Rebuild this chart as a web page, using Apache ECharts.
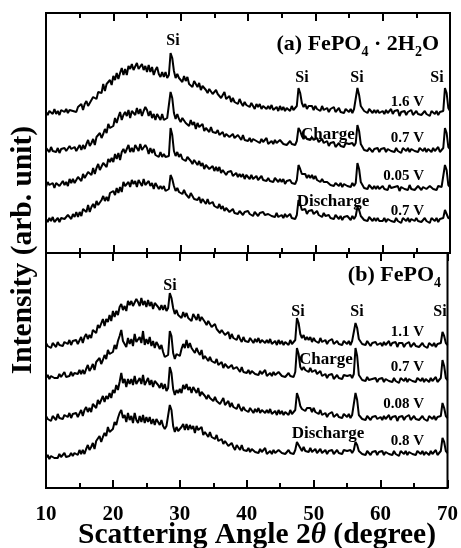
<!DOCTYPE html>
<html>
<head>
<meta charset="utf-8">
<script src="https://cdn.jsdelivr.net/npm/echarts@6/dist/echarts.min.js"></script>
<style>
html,body{margin:0;padding:0;background:#fff;}
#chart{width:461px;height:548px;}
</style>
</head>
<body>
<div id="chart"></div>
<script>
// Scan: 10-70 degrees 2θ, 0.25 degree step
const scanStart = 10;
const scanStep = 0.25;
const angleMin = 10, angleMax = 70, angleTickStep = 10;

// (a) FePO4·2H2O traces, offset intensities
const fp2h_1_6V = [
141,138,142,140,139,144,139,142,138,143,141,141,144,140,143,145,142,143,141,146,
144,149,143,149,152,147,150,148,156,157,154,161,160,160,169,162,169,167,173,168,
177,173,180,174,180,185,178,184,178,187,184,189,183,181,190,184,182,189,183,187,
181,188,181,186,178,183,186,179,176,181,176,181,175,178,200,195,182,175,179,175,
177,171,177,172,176,169,171,166,172,169,166,170,163,167,169,163,160,164,162,159,
159,163,159,161,155,158,161,154,155,157,151,155,151,153,149,154,150,147,151,148,
149,146,150,147,144,149,146,149,144,147,146,144,147,144,148,143,145,146,142,147,
143,146,142,145,144,142,147,143,145,147,165,160,150,146,149,144,147,145,147,143,
147,144,145,142,147,143,144,145,141,144,142,146,141,143,145,141,143,140,144,142,
141,144,140,144,146,165,158,147,145,142,144,140,144,142,140,143,140,143,140,142,
142,139,143,140,141,144,139,142,140,143,137,141,140,142,138,141,139,143,138,140,
142,139,141,138,140,142,139,141,137,142,140,139,142,138,141,140,142,165,160,145,
142];
const fp2h_charge_0_7V = [
105,103,101,106,102,104,101,105,100,104,103,105,102,101,107,104,103,106,102,105,
108,103,108,104,109,113,107,110,114,108,116,114,120,115,119,124,120,129,125,124,
127,135,130,136,141,133,138,141,137,143,135,142,141,138,145,139,144,137,142,146,
143,137,142,135,139,133,139,137,133,139,133,131,135,134,161,155,140,134,139,134,
131,135,137,130,132,127,133,128,131,124,130,126,124,129,122,125,126,121,126,121,
123,120,123,118,119,121,116,119,121,116,117,119,115,113,118,116,113,118,113,114,
112,115,111,114,116,112,112,110,114,111,113,115,109,111,112,109,113,110,111,113,
112,109,111,108,110,112,109,111,108,112,125,122,117,114,117,114,116,113,116,113,
113,115,111,113,114,110,110,112,107,110,108,111,106,108,110,107,109,106,110,108,
109,107,110,107,110,128,122,109,106,103,105,102,105,103,101,104,102,105,101,104,
102,105,101,104,106,102,103,101,105,102,104,100,105,103,102,105,101,104,106,102,
104,101,105,103,102,105,101,104,103,101,105,102,104,106,101,103,105,125,120,106,
104];
const fp2h_0_05V = [
66,71,68,67,70,65,70,72,67,69,72,68,71,67,74,70,74,70,72,76,
76,72,79,75,73,81,80,78,85,79,85,89,83,82,90,88,86,94,91,95,
91,99,94,100,93,101,104,100,99,108,101,105,101,108,107,102,109,103,105,108,
105,99,105,100,104,98,100,96,101,96,99,96,97,97,125,118,102,97,101,96,
99,94,96,92,96,97,92,89,93,91,88,92,87,90,84,88,89,84,85,87,
82,86,82,86,80,83,83,78,81,79,82,77,78,80,76,79,76,79,74,78,
77,74,78,74,75,77,73,75,77,73,74,72,75,72,74,71,75,73,71,74,
71,74,69,72,71,73,70,72,69,73,88,84,79,77,79,75,78,75,78,74,
77,73,75,71,74,71,69,71,71,68,70,67,70,68,67,70,66,69,68,67,
69,66,70,67,70,90,84,71,68,65,67,64,68,66,64,67,64,67,64,66,
67,64,66,63,68,65,63,66,64,67,62,66,67,64,65,63,68,64,66,63,
64,67,65,63,66,68,64,63,67,65,64,66,63,67,65,66,66,88,83,68,
66];
const fp2h_discharge_0_7V = [
34,31,35,32,36,31,33,35,31,35,36,34,33,38,36,34,39,36,41,36,
41,37,44,42,41,48,41,46,49,45,52,48,47,53,57,52,56,52,60,58,
62,58,65,60,66,61,71,67,65,71,66,73,69,72,66,73,70,67,74,68,
67,72,67,70,64,70,67,64,67,64,67,62,64,64,78,74,67,62,65,61,
63,59,63,59,60,55,60,60,54,56,53,56,50,54,53,49,54,49,49,51,
47,49,45,49,44,47,42,45,46,41,42,44,40,42,39,42,40,38,41,42,
42,39,41,37,41,39,37,40,38,41,38,36,39,40,37,38,36,40,36,38,
38,35,39,36,37,39,35,37,34,38,53,49,43,41,44,39,42,40,43,39,
39,42,38,40,36,40,37,35,38,35,37,34,38,36,34,37,33,36,35,37,
36,33,37,34,37,46,43,37,36,33,35,32,36,34,32,35,32,35,32,34,
32,35,31,34,36,32,33,31,35,32,34,30,35,33,32,35,31,34,36,32,
35,32,34,31,33,35,32,34,30,35,33,32,35,31,34,33,35,43,41,35,
34];

// (b) FePO4 traces, offset intensities
const fp_1_1V = [
145,142,144,140,145,143,141,146,143,145,142,146,145,144,148,143,147,145,148,144,
145,151,145,151,154,149,153,150,158,158,155,163,160,160,169,162,169,166,173,167,
177,171,177,173,181,184,178,182,177,187,183,187,182,180,189,186,182,190,183,187,
181,188,182,186,179,185,187,181,178,183,178,183,177,180,195,190,180,174,178,173,
175,170,176,171,175,170,172,167,174,172,168,174,167,171,171,166,163,167,164,161,
160,164,159,161,155,158,160,153,154,156,149,154,150,152,148,153,149,146,151,147,
149,146,150,148,145,149,146,150,145,148,147,145,148,145,149,144,146,147,143,148,
144,147,143,146,145,143,148,144,146,148,170,165,154,150,153,148,151,148,151,146,
150,147,148,145,150,146,146,148,144,147,145,149,144,145,147,144,146,143,147,145,
144,147,143,147,149,165,160,149,147,144,146,143,147,145,142,145,143,146,143,145,
145,142,146,143,144,147,142,145,143,146,141,145,143,145,141,144,142,146,141,143,
145,142,144,141,143,145,142,144,140,145,143,142,145,141,144,143,145,156,152,145,
143];
const fp_charge_0_7V = [
110,113,109,112,114,110,111,110,114,111,113,116,111,113,112,116,112,115,117,114,
118,114,118,114,119,123,117,120,124,118,126,124,130,124,128,133,129,138,134,133,
136,143,139,147,152,158,147,149,141,150,144,149,142,154,146,144,151,145,157,143,
149,144,151,142,147,140,146,143,139,143,136,131,133,133,157,152,135,129,134,132,
132,139,144,140,148,140,145,140,142,135,140,136,133,138,129,132,132,127,131,127,
129,125,129,123,124,126,120,124,125,120,121,123,119,117,121,120,116,121,116,117,
115,118,114,117,118,114,115,113,117,114,116,118,112,114,115,112,116,113,114,116,
115,112,114,111,113,115,112,114,111,116,140,134,121,118,121,118,119,116,120,116,
116,118,114,116,117,112,113,114,110,113,111,114,109,111,113,110,112,109,113,111,
112,110,113,110,114,140,132,113,111,108,110,107,111,108,106,109,107,110,106,109,
107,110,106,109,111,107,108,106,110,107,109,105,110,108,107,110,106,109,111,107,
109,106,110,108,107,110,106,109,108,106,110,107,109,111,106,108,110,128,122,110,
108];
const fp_0_08V = [
72,69,71,67,72,70,68,74,70,72,69,73,72,71,75,70,74,72,75,71,
72,78,72,78,81,76,80,76,84,84,80,88,84,84,92,86,92,89,95,90,
98,95,103,98,106,115,105,109,101,109,104,109,103,112,104,102,110,104,113,103,
103,110,103,108,101,107,109,103,100,105,99,104,97,100,121,115,99,93,98,95,
99,95,103,99,104,98,101,95,101,98,95,100,92,96,97,92,89,93,90,88,
87,91,87,89,84,87,90,83,85,87,81,85,81,83,79,84,80,77,81,78,
79,76,80,78,75,79,76,80,75,78,77,75,78,75,79,74,76,77,73,78,
74,77,73,76,75,73,78,74,76,78,95,90,82,79,81,77,80,78,80,76,
80,76,78,74,78,73,74,75,71,74,72,76,71,72,74,71,73,70,74,72,
71,74,70,73,75,95,88,73,72,69,71,68,72,70,68,71,69,72,69,71,
71,68,72,69,70,73,68,71,69,72,67,71,70,72,68,71,69,73,68,70,
72,69,71,68,70,72,69,71,67,72,70,69,72,68,71,70,72,85,80,72,
70];
const fp_discharge_0_8V = [
30,33,29,32,34,30,31,30,34,31,33,35,31,33,32,35,32,35,37,33,
38,34,38,34,39,43,38,41,45,39,47,45,52,46,51,55,52,61,56,56,
59,66,63,70,75,78,70,73,66,75,68,72,65,75,68,65,72,66,73,65,
71,66,71,64,69,63,69,67,63,68,62,59,62,62,83,78,62,56,61,57,
56,61,64,58,64,58,63,59,62,55,62,58,56,61,53,56,56,51,56,51,
53,49,53,47,48,49,44,47,48,42,44,45,41,38,43,41,38,43,38,39,
37,40,36,39,41,36,37,35,39,36,38,40,34,36,37,34,38,35,36,38,
38,35,37,34,36,38,35,37,34,38,46,44,40,37,41,37,39,36,40,36,
36,39,35,37,39,35,36,38,34,37,35,38,34,36,38,35,37,34,38,36,
37,35,38,35,38,46,43,37,37,34,36,33,37,35,33,36,34,37,33,36,
34,37,33,36,38,34,35,33,37,34,36,32,37,35,34,37,33,36,38,34,
36,33,37,35,34,37,33,36,35,33,37,34,36,38,33,35,37,50,46,37,
35];

const panelA = [fp2h_1_6V, fp2h_charge_0_7V, fp2h_0_05V, fp2h_discharge_0_7V];
const panelB = [fp_1_1V, fp_charge_0_7V, fp_0_08V, fp_discharge_0_8V];

const serif = "'Liberation Serif','Times New Roman','DejaVu Serif',serif";

function toPairs(values) {
  return values.map((v, i) => [scanStart + i * scanStep, v]);
}

function xAxis(gridIndex, position, showLabels) {
  return {
    type: 'value', gridIndex: gridIndex, position: position,
    min: angleMin, max: angleMax, interval: angleTickStep,
    axisLine: { show: false, onZero: false },
    splitLine: { show: false },
    axisTick: { show: true, inside: true, length: 8, lineStyle: { color: '#000', width: 2 } },
    minorTick: { show: true, splitNumber: 2, length: 5, lineStyle: { color: '#000', width: 2 } },
    axisLabel: {
      show: showLabels, margin: 16, color: '#000',
      fontSize: 21, fontWeight: 'bold', fontFamily: serif
    }
  };
}

function traceSeries(values, xi, yi) {
  return {
    type: 'line', xAxisIndex: xi, yAxisIndex: yi,
    data: toPairs(values), showSymbol: false, symbol: 'none',
    lineStyle: { color: '#000', width: 2 }, silent: true
  };
}

function label(text, x, y, size, align) {
  return {
    type: 'text', x: x, y: y, silent: true,
    style: {
      text: text, fill: '#000', textAlign: align || 'center', textVerticalAlign: 'middle',
      font: 'bold ' + size + 'px ' + serif
    }
  };
}

function formula(text, x, y) {
  return {
    type: 'text', x: x, y: y, silent: true,
    style: {
      text: text, fill: '#000', textAlign: 'right', textVerticalAlign: 'middle',
      rich: {
        m: { fontSize: 22, fontWeight: 'bold', fontFamily: serif, lineHeight: 30, verticalAlign: 'middle', fill: '#000' },
        s: { fontSize: 14, fontWeight: 'bold', fontFamily: serif, lineHeight: 14, verticalAlign: 'bottom', fill: '#000' }
      }
    }
  };
}

const chart = echarts.init(document.getElementById('chart'), null, { renderer: 'canvas' });

const series = [];
panelA.forEach(v => series.push(traceSeries(v, 0, 0)));
panelB.forEach(v => series.push(traceSeries(v, 3, 1)));

chart.setOption({
  animation: false,
  backgroundColor: '#fff',
  grid: [
    { left: 46, top: 13, width: 404, height: 240, show: true, borderColor: '#000', borderWidth: 2, backgroundColor: 'transparent' },
    { left: 46, top: 253, width: 404, height: 235, show: true, borderColor: '#000', borderWidth: 2, backgroundColor: 'transparent' }
  ],
  xAxis: [
    xAxis(0, 'bottom', false),
    xAxis(0, 'top', false),
    xAxis(1, 'top', false),
    xAxis(1, 'bottom', true)
  ],
  yAxis: [
    { type: 'value', gridIndex: 0, min: 0, max: 240, show: false },
    { type: 'value', gridIndex: 1, min: 0, max: 235, show: false }
  ],
  series: series,
  graphic: [
    formula('{m|(a) FePO}{s|4}{m| · 2H}{s|2}{m|O}', 439, 44.5),
    label('Si', 173, 41, 16),
    label('Si', 302, 78, 16),
    label('Si', 357, 78, 16),
    label('Si', 437, 78, 16),
    label('1.6 V', 424, 102, 15, 'right'),
    label('Charge', 328, 135, 17),
    label('0.7 V', 424, 138, 15, 'right'),
    label('0.05 V', 424, 176, 15, 'right'),
    label('Discharge', 333, 202, 17),
    label('0.7 V', 424, 211, 15, 'right'),

    formula('{m|(b) FePO}{s|4}', 441, 275.5),
    label('Si', 170, 286, 16),
    label('Si', 298, 312, 16),
    label('Si', 357, 312, 16),
    label('Si', 440, 312, 16),
    label('1.1 V', 424, 332, 15, 'right'),
    label('Charge', 326, 360, 17),
    label('0.7 V', 424, 367, 15, 'right'),
    label('0.08 V', 424, 404, 15, 'right'),
    label('Discharge', 328, 434, 17),
    label('0.8 V', 424, 441, 15, 'right'),

    {
      type: 'text', x: 257, y: 535, silent: true,
      style: {
        text: '{a|Scattering Angle 2}{b|θ}{a| (degree)}', fill: '#000',
        textAlign: 'center', textVerticalAlign: 'middle',
        rich: {
          a: { fontSize: 29.5, fontWeight: 'bold', fontFamily: serif, fill: '#000' },
          b: { fontSize: 29.5, fontWeight: 'bold', fontStyle: 'italic', fontFamily: serif, fill: '#000' }
        }
      }
    },
    {
      type: 'text', x: 23, y: 250, rotation: Math.PI / 2, silent: true,
      style: {
        text: 'Intensity (arb. unit)', fill: '#000',
        textAlign: 'center', textVerticalAlign: 'middle',
        font: 'bold 29.5px ' + serif
      }
    }
  ]
});
</script>
</body>
</html>
